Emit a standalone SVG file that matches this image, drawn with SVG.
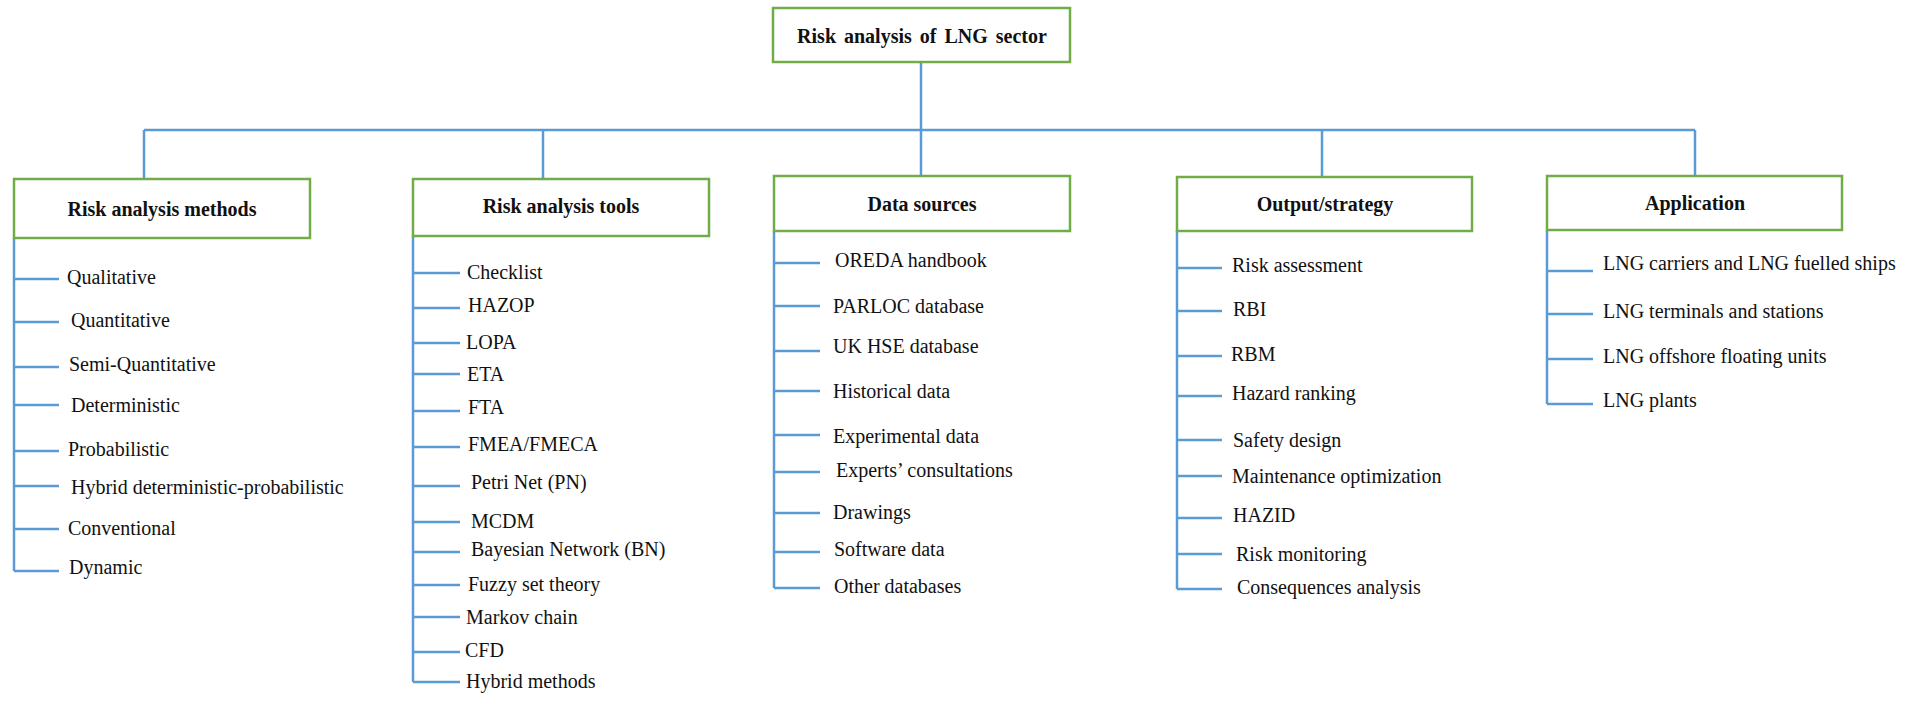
<svg xmlns="http://www.w3.org/2000/svg" width="1923" height="723" viewBox="0 0 1923 723">
<style>
.box{fill:#fff;stroke:#70AD47;stroke-width:2.5}
.hd{font-family:"Liberation Serif","Times New Roman",serif;font-weight:bold;font-size:20px;fill:#111;text-anchor:middle}
.it{font-family:"Liberation Serif","Times New Roman",serif;font-size:20px;fill:#111}
.ln{fill:none;stroke:#5B9BD5;stroke-width:2.5}
</style>
<rect width="1923" height="723" fill="#fff"/>
<g id="connectors">
<path class="ln" d="M921 62V130M144 130H1695M144 130V179M543 130V179M921 130V176M1322 130V177M1695 130V176"/>
<path class="ln" d="M14 238V571M14 279H59M14 322H59M14 367H59M14 405H59M14 451H59M14 486H59M14 529H59M14 571H59"/>
<path class="ln" d="M413 236V682M413 273H460M413 308H460M413 343H460M413 374H460M413 411H460M413 447H460M413 486H460M413 522H460M413 552H460M413 585H460M413 617H460M413 652H460M413 682H460"/>
<path class="ln" d="M774 231V588M774 263H820M774 306H820M774 351H820M774 391H820M774 435H820M774 472H820M774 552H820M774 588H820"/>
<path class="ln" d="M774 513H820" stroke-width="1.5"/>
<path class="ln" d="M1177 231V589M1177 268H1222M1177 311H1222M1177 356H1222M1177 396H1222M1177 440H1222M1177 476H1222M1177 518H1222M1177 554H1222M1177 589H1222"/>
<path class="ln" d="M1547 230V404M1547 271H1593M1547 314H1593M1547 359H1593M1547 404H1593"/>
</g>
<g id="root">
<rect class="box" x="773" y="8" width="297" height="54"/>
<text class="hd" x="922" y="43" word-spacing="3">Risk analysis of LNG sector</text>
</g>
<g id="methods">
<rect class="box" x="14" y="179" width="296" height="59"/>
<text class="hd" x="162" y="216">Risk analysis methods</text>
<text class="it" x="67" y="284">Qualitative</text>
<text class="it" x="71" y="327">Quantitative</text>
<text class="it" x="69" y="371">Semi-Quantitative</text>
<text class="it" x="71" y="412">Deterministic</text>
<text class="it" x="68" y="456">Probabilistic</text>
<text class="it" x="71" y="494">Hybrid deterministic-probabilistic</text>
<text class="it" x="68" y="535">Conventional</text>
<text class="it" x="69" y="574">Dynamic</text>
</g>
<g id="tools">
<rect class="box" x="413" y="179" width="296" height="57"/>
<text class="hd" x="561" y="213">Risk analysis tools</text>
<text class="it" x="467" y="279">Checklist</text>
<text class="it" x="468" y="312">HAZOP</text>
<text class="it" x="466" y="349">LOPA</text>
<text class="it" x="467" y="381">ETA</text>
<text class="it" x="468" y="414">FTA</text>
<text class="it" x="468" y="451">FMEA/FMECA</text>
<text class="it" x="471" y="489">Petri Net (PN)</text>
<text class="it" x="471" y="528">MCDM</text>
<text class="it" x="471" y="556">Bayesian Network (BN)</text>
<text class="it" x="468" y="591">Fuzzy set theory</text>
<text class="it" x="466" y="624">Markov chain</text>
<text class="it" x="465" y="657">CFD</text>
<text class="it" x="466" y="688">Hybrid methods</text>
</g>
<g id="data">
<rect class="box" x="774" y="176" width="296" height="55"/>
<text class="hd" x="922" y="211">Data sources</text>
<text class="it" x="835" y="267">OREDA handbook</text>
<text class="it" x="833" y="313">PARLOC database</text>
<text class="it" x="833" y="353">UK HSE database</text>
<text class="it" x="833" y="398">Historical data</text>
<text class="it" x="833" y="443">Experimental data</text>
<text class="it" x="836" y="477">Experts’ consultations</text>
<text class="it" x="833" y="519">Drawings</text>
<text class="it" x="834" y="556">Software data</text>
<text class="it" x="834" y="593">Other databases</text>
</g>
<g id="output">
<rect class="box" x="1177" y="177" width="295" height="54"/>
<text class="hd" x="1325" y="211">Output/strategy</text>
<text class="it" x="1232" y="272">Risk assessment</text>
<text class="it" x="1233" y="316">RBI</text>
<text class="it" x="1231" y="361">RBM</text>
<text class="it" x="1232" y="400">Hazard ranking</text>
<text class="it" x="1233" y="447">Safety design</text>
<text class="it" x="1232" y="483">Maintenance optimization</text>
<text class="it" x="1233" y="522">HAZID</text>
<text class="it" x="1236" y="561">Risk monitoring</text>
<text class="it" x="1237" y="594">Consequences analysis</text>
</g>
<g id="application">
<rect class="box" x="1547" y="176" width="295" height="54"/>
<text class="hd" x="1695" y="210">Application</text>
<text class="it" x="1603" y="270">LNG carriers and LNG fuelled ships</text>
<text class="it" x="1603" y="318">LNG terminals and stations</text>
<text class="it" x="1603" y="363">LNG offshore floating units</text>
<text class="it" x="1603" y="407">LNG plants</text>
</g>
</svg>
